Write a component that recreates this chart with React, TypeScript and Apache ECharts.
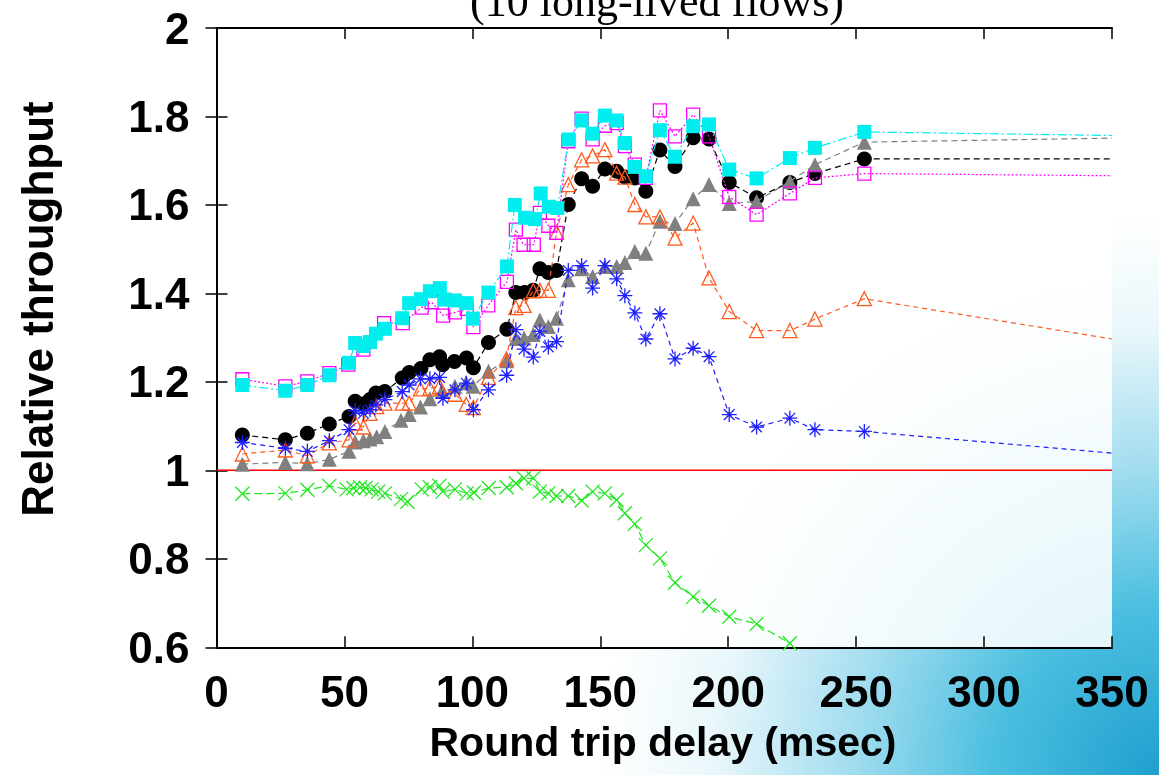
import React, { useEffect, useRef } from "react";
import * as echarts from "echarts";

const xTickValues = [0, 50, 100, 150, 200, 250, 300, 350];
const yTickValues = [0.6, 0.8, 1, 1.2, 1.4, 1.6, 1.8, 2];

const cyanData: [number, number][] = [
  [10.1, 1.193], [26.9, 1.18], [35.5, 1.193], [44.1, 1.215], [51.8, 1.243], [54.2, 1.288],
  [57.4, 1.281], [60.0, 1.29], [62.3, 1.309], [65.8, 1.32], [72.6, 1.344], [75.3, 1.378],
  [79.9, 1.387], [83.4, 1.405], [87.3, 1.412], [89.3, 1.386], [93.2, 1.384], [97.8, 1.378],
  [100.2, 1.343], [106.3, 1.402], [113.5, 1.461], [116.6, 1.6], [120.6, 1.571], [124.5, 1.568],
  [126.7, 1.626], [129.9, 1.596], [133.2, 1.593], [137.6, 1.748], [142.7, 1.791], [147.0, 1.761],
  [151.8, 1.802], [156.4, 1.791], [159.6, 1.74], [163.5, 1.686], [167.8, 1.665], [173.3, 1.769],
  [179.2, 1.709], [186.3, 1.778], [192.5, 1.782], [200.4, 1.68], [211.1, 1.66], [224.1, 1.706],
  [233.9, 1.729], [253.2, 1.765], [350, 1.757],
];

const magentaData: [number, number][] = [
  [10.1, 1.206], [26.9, 1.19], [35.5, 1.201], [44.1, 1.22], [51.5, 1.239], [57.4, 1.273],
  [65.5, 1.333], [72.8, 1.333], [80.2, 1.368], [84.1, 1.38], [88.6, 1.35], [93.2, 1.357],
  [97.8, 1.365], [100.4, 1.324], [106.2, 1.373], [113.5, 1.426], [117.0, 1.544], [120.0, 1.51],
  [124.0, 1.51], [126.4, 1.582], [129.7, 1.553], [132.9, 1.537], [137.5, 1.744], [142.7, 1.795],
  [147.0, 1.748], [151.8, 1.779], [156.4, 1.785], [159.6, 1.733], [163.5, 1.691], [167.8, 1.661],
  [173.3, 1.814], [179.2, 1.755], [186.3, 1.804], [192.5, 1.755], [200.4, 1.618], [211.1, 1.578],
  [224.1, 1.626], [233.9, 1.661], [253.2, 1.671], [350, 1.666],
];

const blackData: [number, number][] = [
  [10.1, 1.08], [26.9, 1.069], [35.5, 1.084], [44.1, 1.105], [51.8, 1.122], [54.2, 1.156],
  [57.4, 1.15], [60.0, 1.16], [62.3, 1.175], [65.8, 1.178], [72.6, 1.209], [75.3, 1.221],
  [79.9, 1.23], [83.4, 1.25], [87.2, 1.257], [88.4, 1.239], [93.0, 1.246], [97.7, 1.254],
  [100.4, 1.232], [106.3, 1.289], [113.5, 1.319], [117.0, 1.402], [120.4, 1.402], [123.8, 1.407],
  [126.4, 1.456], [129.7, 1.447], [132.9, 1.452], [137.5, 1.601], [142.7, 1.659], [147.0, 1.642],
  [151.8, 1.681], [156.4, 1.676], [159.6, 1.663], [163.5, 1.661], [167.8, 1.631], [173.3, 1.724],
  [179.2, 1.687], [186.3, 1.752], [192.5, 1.749], [200.4, 1.651], [211.1, 1.616], [224.1, 1.651],
  [233.9, 1.671], [253.2, 1.704], [350, 1.704],
];

const greyData: [number, number][] = [
  [10.1, 1.014], [26.9, 1.018], [35.5, 1.015], [44.1, 1.025], [51.8, 1.043], [54.2, 1.064],
  [57.4, 1.067], [60.0, 1.071], [62.6, 1.076], [65.8, 1.088], [72.1, 1.113], [75.3, 1.126],
  [79.7, 1.143], [83.4, 1.162], [88.2, 1.18], [93.2, 1.19], [97.6, 1.198], [100.3, 1.19],
  [106.3, 1.224], [113.4, 1.248], [117.0, 1.298], [120.2, 1.299], [123.8, 1.307], [126.4, 1.34],
  [129.7, 1.325], [132.9, 1.344], [137.5, 1.431], [142.7, 1.456], [147.0, 1.438], [151.8, 1.461],
  [156.4, 1.461], [159.6, 1.47], [163.5, 1.495], [167.8, 1.491], [173.3, 1.563], [179.2, 1.558],
  [186.3, 1.614], [192.5, 1.646], [200.4, 1.603], [211.1, 1.608], [224.1, 1.653], [233.9, 1.691],
  [253.2, 1.742], [350, 1.751],
];

const orangeData: [number, number][] = [
  [10.1, 1.037], [26.9, 1.046], [35.5, 1.033], [44.1, 1.062], [51.8, 1.069], [54.2, 1.107],
  [57.4, 1.098], [60.0, 1.129], [62.6, 1.144], [65.8, 1.152], [72.6, 1.152], [75.3, 1.152],
  [79.7, 1.184], [83.4, 1.186], [87.2, 1.19], [93.2, 1.172], [97.6, 1.149], [100.4, 1.142],
  [106.3, 1.21], [113.3, 1.252], [117.0, 1.368], [120.2, 1.373], [123.8, 1.406], [126.4, 1.407],
  [129.7, 1.407], [132.9, 1.538], [137.5, 1.646], [142.7, 1.702], [147.0, 1.711], [151.8, 1.725],
  [156.4, 1.672], [159.6, 1.663], [163.5, 1.601], [167.8, 1.573], [173.3, 1.573], [179.2, 1.525],
  [186.3, 1.559], [192.5, 1.435], [200.4, 1.359], [211.1, 1.316], [224.1, 1.316], [233.9, 1.342],
  [253.2, 1.388], [350, 1.297],
];

const blueData: [number, number][] = [
  [10.1, 1.063], [26.9, 1.05], [35.5, 1.043], [44.1, 1.067], [51.8, 1.092], [54.2, 1.135],
  [57.4, 1.129], [60.0, 1.137], [62.3, 1.148], [65.8, 1.16], [72.6, 1.178], [75.3, 1.193],
  [79.7, 1.207], [83.4, 1.207], [87.2, 1.21], [88.5, 1.163], [93.2, 1.182], [97.6, 1.197],
  [100.4, 1.137], [106.3, 1.182], [113.4, 1.215], [117.0, 1.318], [120.2, 1.274], [123.8, 1.256],
  [126.4, 1.314], [129.7, 1.279], [132.9, 1.291], [137.5, 1.452], [142.7, 1.463], [147.0, 1.412],
  [151.8, 1.463], [156.4, 1.433], [159.6, 1.395], [163.5, 1.356], [167.8, 1.297], [173.3, 1.354],
  [179.2, 1.252], [186.3, 1.276], [192.5, 1.257], [200.4, 1.126], [211.1, 1.098], [224.1, 1.118],
  [233.9, 1.092], [253.2, 1.088], [350, 1.039],
];

const greenData: [number, number][] = [
  [10.1, 0.947], [26.9, 0.948], [35.5, 0.956], [44.1, 0.965], [50.9, 0.957], [53.5, 0.96],
  [56.1, 0.962], [58.3, 0.96], [60.6, 0.957], [63.2, 0.952], [65.8, 0.948], [72.1, 0.935],
  [74.6, 0.929], [80.2, 0.957], [83.4, 0.962], [87.1, 0.965], [88.4, 0.952], [93.2, 0.957],
  [97.8, 0.948], [100.6, 0.95], [106.4, 0.96], [113.4, 0.962], [117.0, 0.971], [120.2, 0.982],
  [123.8, 0.982], [126.4, 0.952], [129.7, 0.948], [132.9, 0.942], [137.5, 0.942], [142.7, 0.932],
  [147.0, 0.952], [151.8, 0.948], [156.4, 0.933], [159.6, 0.903], [163.5, 0.879], [167.8, 0.831],
  [173.3, 0.801], [179.2, 0.746], [186.3, 0.714], [192.5, 0.694], [200.4, 0.669], [211.1, 0.653],
  [224.1, 0.609],
];

const baselineData: [number, number][] = [[0, 1], [350, 1]];

const TITLE = "(10 long-lived flows)";
const X_NAME = "Round trip delay (msec)";
const Y_NAME = "Relative throughput";

const SANS = "'Liberation Sans', Arial, sans-serif";
const SERIF = "'Liberation Serif', 'Times New Roman', serif";

const ASTERISK = "path://M0,-10L0,10M-10,0L10,0M-7.07,-7.07L7.07,7.07M-7.07,7.07L7.07,-7.07";
const CROSS = "path://M-10,-10L10,10M-10,10L10,-10";

function makeSeries(
  data: [number, number][],
  color: string,
  lineType: any,
  symbol: string,
  symbolSize: number,
  filled: boolean,
  z: number
) {
  return {
    type: "line",
    data: data.map(([x, y]) => (x >= 350 ? { value: [x, y], symbol: "none" } : [x, y])),
    symbol,
    symbolSize,
    showAllSymbol: true,
    lineStyle: { color, width: 1.2, type: lineType },
    itemStyle: filled
      ? { color, borderWidth: 0 }
      : { color: "rgba(0,0,0,0)", borderColor: color, borderWidth: 1.3 },
    emphasis: { disabled: true },
    silent: true,
    z,
  };
}

export default function App() {
  const ref = useRef<HTMLDivElement>(null);
  useEffect(() => {
    const chart = echarts.init(ref.current!, null, { renderer: "svg" });
    const left = 216.5;
    const top = 28;
    const right = 1159 - 1112;
    const bottom = 775 - 647.3;
    const axisCommon = {
      type: "value",
      axisLine: { show: true, lineStyle: { color: "#000", width: 2 } },
      axisTick: { show: true, inside: true, length: 11, lineStyle: { color: "#000", width: 1.5 } },
      splitLine: { show: false },
    };
    chart.setOption({
      animation: false,
      backgroundColor: "transparent",
      grid: {
        left,
        top,
        right,
        bottom,
        show: true,
        backgroundColor: "rgba(255,255,255,0.86)",
        borderWidth: 0,
      },
      graphic: [
        {
          type: "rect",
          z: -100,
          silent: true,
          shape: { x: 0, y: 0, width: 1159, height: 775 },
          style: {
            fill: {
              type: "radial",
              x: 1159,
              y: 775,
              r: 560,
              global: true,
              colorStops: [
                { offset: 0, color: "#1f9fcf" },
                { offset: 0.3, color: "#4cbfe0" },
                { offset: 0.55, color: "#a2ddef" },
                { offset: 0.8, color: "#eaf7fb" },
                { offset: 1, color: "#ffffff" },
              ],
            },
          },
        },
        {
          type: "text",
          x: 657,
          y: 1,
          silent: true,
          style: {
            text: TITLE,
            fill: "#000",
            font: `44px ${SERIF}`,
            align: "center",
            verticalAlign: "middle",
          },
        },
        {
          type: "text",
          x: 663,
          y: 742,
          silent: true,
          style: {
            text: X_NAME,
            fill: "#000",
            font: `bold 41px ${SANS}`,
            align: "center",
            verticalAlign: "middle",
          },
        },
        {
          type: "text",
          x: 37,
          y: 309,
          rotation: Math.PI / 2,
          silent: true,
          style: {
            text: Y_NAME,
            fill: "#000",
            font: `bold 44px ${SANS}`,
            align: "center",
            verticalAlign: "middle",
          },
        },
      ],
      xAxis: [
        {
          ...axisCommon,
          position: "bottom",
          min: xTickValues[0],
          max: xTickValues[xTickValues.length - 1],
          interval: 50,
          axisLabel: {
            show: true,
            margin: 22,
            color: "#000",
            fontSize: 44,
            fontWeight: "bold",
            fontFamily: SANS,
          },
        },
        {
          ...axisCommon,
          position: "top",
          min: xTickValues[0],
          max: xTickValues[xTickValues.length - 1],
          interval: 50,
          axisLabel: { show: false },
        },
      ],
      yAxis: [
        {
          ...axisCommon,
          position: "left",
          min: yTickValues[0],
          max: yTickValues[yTickValues.length - 1],
          interval: 0.2,
          axisLabel: {
            show: true,
            margin: 27,
            color: "#000",
            fontSize: 44,
            fontWeight: "bold",
            fontFamily: SANS,
            formatter: (v: number) => String(Math.round(v * 10) / 10),
          },
        },
        {
          ...axisCommon,
          position: "right",
          min: yTickValues[0],
          max: yTickValues[yTickValues.length - 1],
          interval: 0.2,
          axisLabel: { show: false },
        },
      ],
      series: [
        {
          type: "line",
          data: baselineData,
          symbol: "none",
          lineStyle: { color: "#ff0000", width: 1.5, type: "solid" },
          silent: true,
          z: 1,
        },
        makeSeries(greenData, "#22e622", [8, 4], CROSS, 14, false, 2),
        makeSeries(blackData, "#000000", [6, 4], "circle", 15, true, 3),
        makeSeries(greyData, "#808080", [6, 4], "triangle", 15, true, 4),
        makeSeries(orangeData, "#ff5a1e", [5, 4], "triangle", 14, false, 5),
        makeSeries(blueData, "#1f1fff", [5, 4], ASTERISK, 15, false, 6),
        makeSeries(magentaData, "#ff00ff", [2, 2], "rect", 13, false, 7),
        makeSeries(cyanData, "#00eeee", [9, 3, 2, 3], "rect", 14, true, 8),
      ],
    });
    return () => chart.dispose();
  }, []);
  return (
    <div
      ref={ref}
      style={{ position: "fixed", left: 0, top: 0, width: 1159, height: 775 }}
    />
  );
}
